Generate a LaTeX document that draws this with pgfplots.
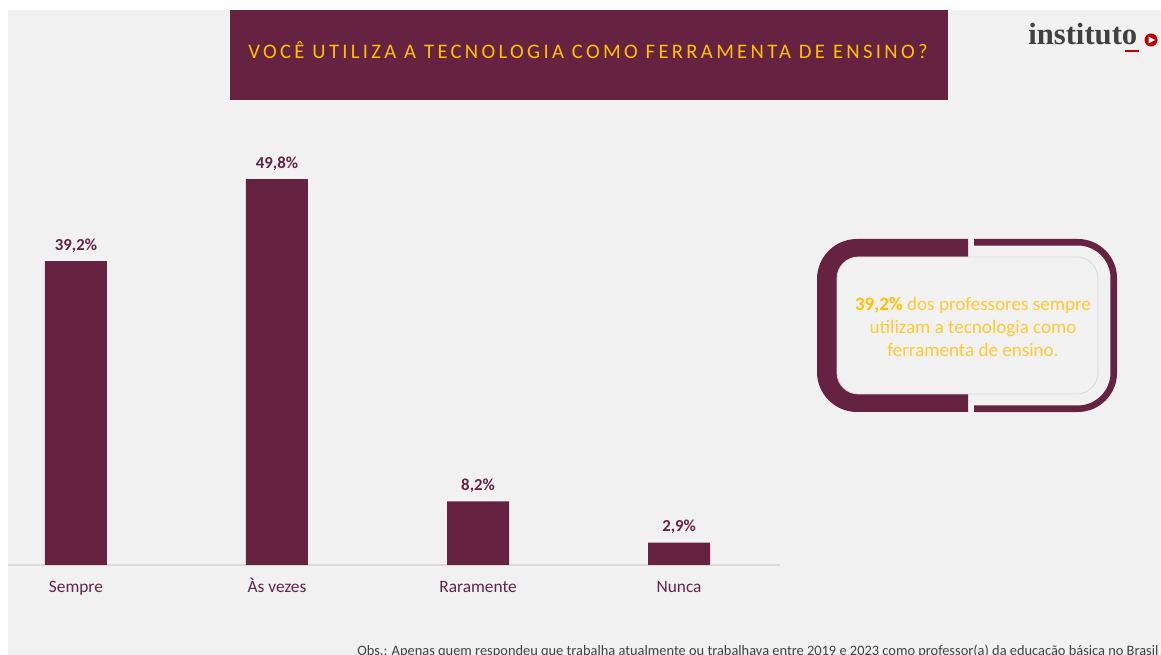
\documentclass[border=0pt]{standalone}
\usepackage{pgfplots}
\pgfplotsset{compat=1.18}
\usepackage{fontspec}
\setmainfont{Carlito}
\newfontfamily\titlefont[LetterSpace=16]{Carlito}
\newfontfamily\logofont{Liberation Serif}
\definecolor{maroon}{HTML}{662341}
\definecolor{bg}{HTML}{F1F1F1}
\definecolor{gold}{HTML}{FFC000}
\definecolor{goldlt}{HTML}{FFC933}
\definecolor{axgray}{HTML}{D9D9D9}
\definecolor{txtgray}{HTML}{404040}
\definecolor{logored}{HTML}{C00000}
\begin{document}
\begin{tikzpicture}[x=0.75pt,y=0.75pt]
\useasboundingbox (0,0) rectangle (1161,655);
\clip (0,0) rectangle (1161,655);
\fill[white] (0,0) rectangle (1161,655);
\fill[bg] (8,0) rectangle (1161,645);
% title
\fill[maroon] (230,555) rectangle (948,645);
\node[font=\titlefont\fontsize{15.5}{18}\selectfont, text=gold] at (588,605) {VOCÊ UTILIZA A TECNOLOGIA COMO FERRAMENTA DE ENSINO?};
% logo
\node[anchor=base west, font=\logofont\bfseries\fontsize{23}{26}\selectfont, text=txtgray, inner sep=0pt] at (1028,610) {instituto};
\fill[logored] (1125,602.5) rectangle (1139,604.5);
\fill[logored] (1151,615) circle (6.5);
\fill[white] (1148.5,611.5) -- (1148.5,618.5) -- (1155,615) -- cycle;
% chart
\begin{axis}[
  at={(6pt,67.5pt)}, anchor=south west,
  scale only axis, width=579pt, height=348.75pt,
  xmin=-0.338, xmax=3.502, ymin=0, ymax=60,
  axis y line=none,
  axis x line*=bottom,
  x axis line style={draw=axgray, line width=1.1pt, -},
  xtick={0,1,2,3},
  xticklabels={Sempre,Às vezes,Raramente,Nunca},
  major tick length=0pt,
  xticklabel style={text=maroon, font=\fontsize{13}{15}\selectfont, anchor=base, yshift=-20.5pt},
  ybar, bar width=46.5pt,
  point meta=explicit symbolic,
  nodes near coords,
  nodes near coords style={text=maroon, font=\bfseries\fontsize{12.6}{14}\selectfont, anchor=base, yshift=8.25pt},
  clip=false,
]
\addplot[fill=maroon, draw=none] coordinates {
  (0,39.2) [39,2\%]
  (1,49.8) [49,8\%]
  (2,8.2) [8,2\%]
  (3,2.9) [2,9\%]
};
\end{axis}
% callout
\begin{scope}
\clip (800,230) rectangle (968,430);
\fill[maroon, rounded corners=30] (817,243) rectangle (1117,416);
\end{scope}
\begin{scope}
\clip (974,230) rectangle (1130,430);
\draw[maroon, line width=4.9pt, rounded corners=27] (820.25,246.25) rectangle (1113.75,412.75);
\end{scope}
\fill[bg, draw=axgray, line width=0.6pt, rounded corners=16] (837,261) rectangle (1098,398);
\node[align=center, text=goldlt, font=\fontsize{14.3}{17.5}\selectfont] at (973,328)
  {\textcolor{gold}{\textbf{39,2\%}} dos professores sempre\\utilizam a tecnologia como\\ferramenta de ensino.};
% footnote
\node[anchor=base west, inner sep=0pt, text=txtgray, font=\fontsize{10.8}{12}\selectfont] at (357,-1)
  {Obs.: Apenas quem respondeu que trabalha atualmente ou trabalhava entre 2019 e 2023 como professor(a) da educação básica no Brasil};
\end{tikzpicture}
\end{document}
